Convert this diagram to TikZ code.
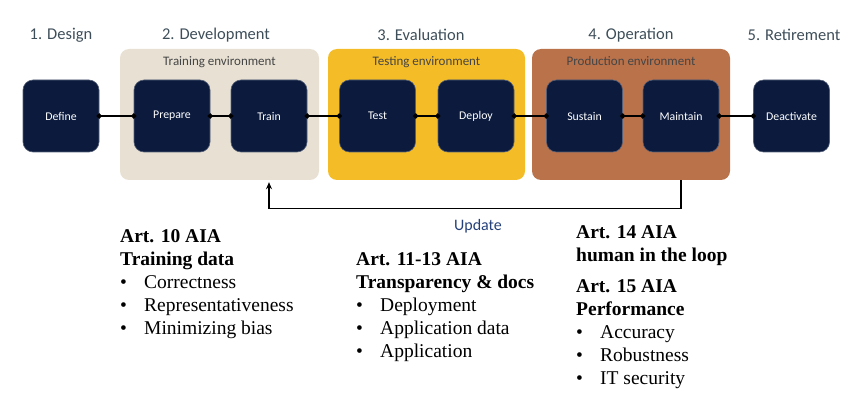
\documentclass[tikz,border=0pt]{standalone}
\usepackage{fontspec}
\setmainfont{Liberation Serif}
\newfontfamily\calfont{Carlito}
\usetikzlibrary{arrows.meta,positioning}
\definecolor{stagenavy}{HTML}{0B1A3D}
\definecolor{trainbg}{HTML}{E8E1D3}
\definecolor{testbg}{HTML}{F4BC27}
\definecolor{prodbg}{HTML}{BA724B}
\definecolor{phasegray}{HTML}{3E4E59}
\definecolor{envgray}{HTML}{454545}
\definecolor{updblue}{HTML}{24407A}
\newcommand{\itm}{\makebox[24pt][l]{\textbullet}}

\begin{document}
\begin{tikzpicture}[x=1pt,y=-1pt,
  stage/.style={fill=stagenavy,draw=stagenavy!70!white,line width=0.6pt,rounded corners=10pt,
    minimum width=76,minimum height=72,text=white,font=\calfont\fontsize{11.8}{13}\selectfont},
  envbox/.style={rounded corners=9pt,minimum width=199,minimum height=131},
  envlabel/.style={text=envgray,font=\calfont\fontsize{13}{15}\selectfont,below=4pt},
  phase/.style={text=phasegray,font=\calfont\fontsize{16.5}{18}\selectfont},
  link/.style={line width=1.6pt,{Circle[length=5pt]}-{Circle[length=5pt]},shorten <=-2.5pt,shorten >=-2.5pt},
  artblock/.style={anchor=north west,align=left,inner sep=0pt,font=\fontsize{19.5}{23}\selectfont}]
  \useasboundingbox (0,0) rectangle (865,401);
  % phases
  \node[phase] (design) at (61,35) {1. Design};
  \node[phase] (develop) at (216,35) {2. Development};
  \node[phase] (evaluate) at (421,35) {3. Evaluation};
  \node[phase] (operate) at (631,35) {4. Operation};
  \node[phase] (retire) at (794,35) {5. Retirement};
  % environments
  \node[envbox,fill=trainbg] (devbox) at (219.5,114.5) {};
  \node[envbox,fill=testbg,minimum width=197] (evalbox) at (426.5,114.5) {};
  \node[envbox,fill=prodbg,minimum width=198] (opbox) at (631,114.5) {};
  \node[envlabel] at (devbox.north) {Training environment};
  \node[envlabel] at (evalbox.north) {Testing environment};
  \node[envlabel] at (opbox.north) {Production environment};
  % stages
  \node[stage] (define) at (61,116) {Define};
  \node[stage] (prepare) at (172,116) {Prepare};
  \node[stage] (train) at (269,116) {Train};
  \node[stage] (test) at (377.5,116) {Test};
  \node[stage] (deploy) at (476,116) {Deploy};
  \node[stage] (sustain) at (584.5,116) {Sustain};
  \node[stage] (maintain) at (681,116) {Maintain};
  \node[stage] (deactivate) at (791.5,116) {Deactivate};
  \draw[link] (define) -- (prepare);
  \draw[link] (prepare) -- (train);
  \draw[link] (train) -- (test);
  \draw[link] (test) -- (deploy);
  \draw[link] (deploy) -- (sustain);
  \draw[link] (sustain) -- (maintain);
  \draw[link] (maintain) -- (deactivate);
  % update loop
  \draw[line width=1.4pt,-{Stealth[length=7pt,width=6pt]}] (maintain |- opbox.south) -- ++(0,28) -| ([yshift=-2pt]train |- devbox.south);
  \node[text=updblue,font=\calfont\fontsize{16}{18}\selectfont] (update) at (478,226) {Update};
  % articles
  \node[artblock] (art10) at (120,229) {\textbf{Art. 10 AIA}\\ \textbf{Training data}\\
    \itm Correctness\\ \itm Representativeness\\ \itm Minimizing bias};
  \node[artblock] (art11) at (356,252) {\textbf{Art. 11-13 AIA}\\ \textbf{Transparency \& docs}\\
    \itm Deployment\\ \itm Application data\\ \itm Application};
  \node[artblock] (art14) at (576,225) {\textbf{Art. 14 AIA}\\ \textbf{human in the loop}\\[8pt]
    \textbf{Art. 15 AIA}\\ \textbf{Performance}\\ \itm Accuracy\\ \itm Robustness\\ \itm IT security};
\end{tikzpicture}
\end{document}
